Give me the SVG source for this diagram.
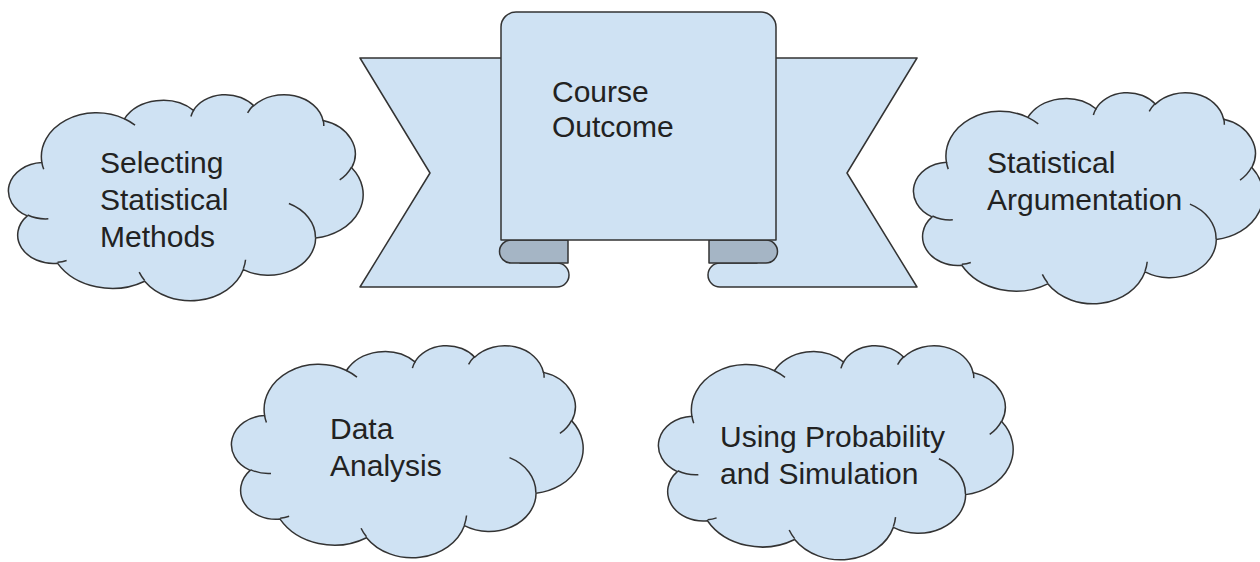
<svg xmlns="http://www.w3.org/2000/svg" xmlns:xlink="http://www.w3.org/1999/xlink" width="1260" height="562" viewBox="0 0 1260 562">
<style>
.sh{fill:#cfe2f3;stroke:#333;stroke-width:1.5;stroke-linejoin:round}
.dk{fill:#a5b5c5;stroke:#333;stroke-width:1.5;stroke-linejoin:round}
.cf{fill:#cfe2f3;stroke:#333;stroke-width:1.5;vector-effect:non-scaling-stroke}
.ci{fill:none;stroke:#333;stroke-width:1.5;vector-effect:non-scaling-stroke}
.t{font-family:"Liberation Sans",Arial,sans-serif;font-size:30px;fill:#222}
</style>
<defs>
<path id="cloudOuter" class="cf" d="M9.028,33.264 A15.632,21.273 0 0 1 32.419,12.042 A12.345,16.822 0 0 1 51.981,7.947 A10.104,13.762 0 0 1 69.055,5.739 A11.243,15.266 0 0 1 88.695,12.905 A12.345,16.836 0 0 1 96.798,35.785 A15.683,21.343 0 0 1 86.584,69.92 A13.391,18.211 0 0 1 66.102,85.221 A15.63,21.331 0 0 1 38.152,90.901 A17.87,24.405 0 0 1 13.444,82.128 A10.093,13.699 0 0 1 4.898,59.163 A10.058,13.762 0 0 1 9.028,33.264 Z"/>
<path id="cloudInner" class="ci" d="M10.863,60.595 A10.058,13.762 0 0 1 4.999,58.75 M16.037,80.785 A10.093,13.699 0 0 1 13.471,81.668 M38.144,90.486 A15.63,21.331 0 0 1 36.595,86.451 M66.729,80.442 A15.63,21.331 0 0 1 66.112,84.861 M79.002,53.134 A13.391,18.211 0 0 1 86.527,69.651 M96.755,35.542 A12.345,16.836 0 0 1 93.403,41.735 M88.713,12.56 A11.243,15.266 0 0 1 88.89,15.485 M67.31,9.148 A11.243,15.266 0 0 1 69.028,5.415 M51.252,10.926 A10.104,13.762 0 0 1 52.083,7.71 M32.407,12.019 A15.632,21.273 0 0 1 35.419,15.143 M9.553,36.549 A15.632,21.273 0 0 1 9.028,33.264"/>
</defs>

<g id="course-outcome">
  <path class="sh" d="M360,58 L520,58 L520,263 L557,263 A12,12 0 0 1 557,287 L360,287 L430,173 Z"/>
  <path class="sh" d="M917,58 L757,58 L757,263 L720,263 A12,12 0 0 0 720,287 L917,287 L847,173 Z"/>
  <path class="dk" d="M568,240 L511,240 A11.5,11.5 0 0 0 511,263 L568,263 Z"/>
  <path class="dk" d="M709,240 L766,240 A11.5,11.5 0 0 1 766,263 L709,263 Z"/>
  <path class="sh" d="M501,240 V27 A15,15 0 0 1 516,12 H761 A15,15 0 0 1 776,27 V240 Z"/>
  <text class="t" x="552" y="102">Course</text>
  <text class="t" x="552" y="137">Outcome</text>
</g>

<g id="selecting-statistical-methods">
  <g transform="translate(10,94) scale(3.53,2.06)">
    <use xlink:href="#cloudOuter"/>
    <use xlink:href="#cloudInner"/>
  </g>
  <text class="t" x="100" y="173">Selecting</text>
  <text class="t" x="100" y="210">Statistical</text>
  <text class="t" x="100" y="247">Methods</text>
</g>

<g id="statistical-argumentation">
  <g transform="translate(915,92) scale(3.48,2.11)">
    <use xlink:href="#cloudOuter"/>
    <use xlink:href="#cloudInner"/>
  </g>
  <text class="t" x="987" y="173">Statistical</text>
  <text class="t" x="987" y="210">Argumentation</text>
</g>

<g id="data-analysis">
  <g transform="translate(233,345) scale(3.5,2.12)">
    <use xlink:href="#cloudOuter"/>
    <use xlink:href="#cloudInner"/>
  </g>
  <text class="t" x="330" y="439">Data</text>
  <text class="t" x="330" y="476">Analysis</text>
</g>

<g id="using-probability-and-simulation">
  <g transform="translate(660,345) scale(3.53,2.14)">
    <use xlink:href="#cloudOuter"/>
    <use xlink:href="#cloudInner"/>
  </g>
  <text class="t" x="720" y="447">Using Probability</text>
  <text class="t" x="720" y="484">and Simulation</text>
</g>

<g id="connectors"></g>
</svg>
